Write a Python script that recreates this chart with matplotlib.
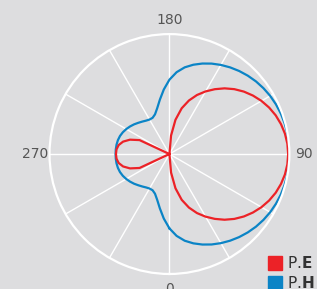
import numpy as np
import matplotlib
matplotlib.use("Agg")
import matplotlib.pyplot as plt
from matplotlib.lines import Line2D

# angles in degrees, 0 at bottom, counter-clockwise (90 right, 180 top)
angles = list(range(0, 365, 5))

# E plane (red)
p_e = [0.0, 0.155, 0.29, 0.395, 0.475, 0.543, 0.603, 0.66, 0.715, 0.765,
       0.81, 0.85, 0.886, 0.917, 0.943, 0.963, 0.978, 0.987, 0.99, 0.987,
       0.978, 0.963, 0.943, 0.917, 0.886, 0.85, 0.81, 0.765, 0.715, 0.66,
       0.603, 0.543, 0.475, 0.395, 0.29, 0.155, 0.0, 0.0, 0.0, 0.0,
       0.0, 0.0, 0.0, 0.0, 0.0, 0.0, 0.0, 0.0, 0.0, 0.275,
       0.35, 0.40, 0.43, 0.443, 0.446, 0.443, 0.43, 0.40, 0.35, 0.275,
       0.0, 0.0, 0.0, 0.0, 0.0, 0.0, 0.0, 0.0, 0.0, 0.0,
       0.0, 0.0, 0.0]

# H plane (blue)
p_h = [0.62, 0.685, 0.734, 0.771, 0.803, 0.832, 0.858, 0.882, 0.904, 0.924,
       0.942, 0.957, 0.97, 0.98, 0.988, 0.994, 0.998, 1.0, 1.0, 1.0,
       0.998, 0.994, 0.988, 0.98, 0.97, 0.957, 0.942, 0.924, 0.904, 0.882,
       0.858, 0.832, 0.803, 0.771, 0.734, 0.685, 0.62, 0.54, 0.46, 0.395,
       0.352, 0.333, 0.332, 0.34, 0.353, 0.368, 0.385, 0.401, 0.416, 0.429,
       0.439, 0.445, 0.448, 0.449, 0.449, 0.449, 0.448, 0.445, 0.439, 0.429,
       0.416, 0.401, 0.385, 0.368, 0.353, 0.34, 0.332, 0.333, 0.352, 0.395,
       0.46, 0.54, 0.62]

grid_angles = list(range(0, 360, 30))
tick_text = {0: "0", 90: "90", 180: "180", 270: "270"}

bg = "#dddddf"
red = "#ec2227"
blue = "#0b84c6"

fig = plt.figure(figsize=(3.17, 2.89), dpi=100, facecolor=bg)
ax = fig.add_axes([0.156, 0.052, 0.757, 0.830], projection="polar")
ax.set_facecolor(bg)
ax.set_theta_zero_location("S")
ax.set_theta_direction(1)

th = np.deg2rad(angles)
ax.plot(th, p_h, color=blue, lw=1.6)
ax.plot(th, p_e, color=red, lw=1.6)

ax.set_rlim(0, 1)
ax.set_yticks([])
ax.set_thetagrids(grid_angles, labels=[tick_text.get(a, "") for a in grid_angles])
ax.xaxis.grid(True, color="white", lw=1.0)
ax.spines["polar"].set_color("white")
ax.spines["polar"].set_linewidth(1.6)
ax.tick_params(axis="x", labelsize=10, colors="#555555", pad=0)

handles = [Line2D([], [], marker="s", ls="none", color=red, markersize=10),
           Line2D([], [], marker="s", ls="none", color=blue, markersize=10)]
fig.legend(handles, [r"P.$\mathbf{E}$", r"P.$\mathbf{H}$"],
           loc="upper left", bbox_to_anchor=(0.848, 0.118), frameon=False,
           fontsize=11, handlelength=0.8, handletextpad=0.4, borderpad=0,
           labelspacing=0.3, borderaxespad=0, labelcolor="#333333")

fig.savefig("out.png", dpi=100, facecolor=bg)
